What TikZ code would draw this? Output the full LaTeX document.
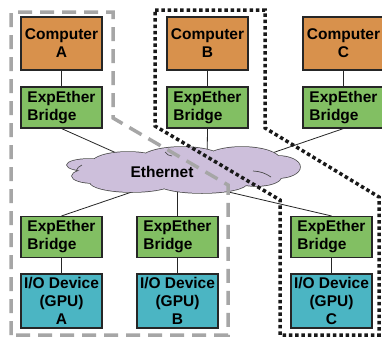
\documentclass[tikz,border=0pt]{standalone}
\usepackage{fontspec}
\setmainfont{Liberation Sans}
\definecolor{comporange}{RGB}{216,145,76}
\definecolor{bridgegreen}{RGB}{130,191,99}
\definecolor{devteal}{RGB}{75,181,195}
\definecolor{cloudlav}{RGB}{205,191,219}
\definecolor{grpgray}{RGB}{166,166,166}
\begin{document}
\begin{tikzpicture}[x=1pt,y=-1pt,
  box/.style={draw=black!85,line width=1.1pt,minimum width=81pt,inner sep=0pt,
    font=\fontsize{15.5}{18}\selectfont\bfseries,align=center},
  compbox/.style={box,fill=comporange,minimum height=53pt},
  bridgebox/.style={box,fill=bridgegreen,minimum height=41pt,align=left},
  devbox/.style={box,fill=devteal,minimum height=54pt},
  link/.style={draw=black!85,line width=0.8pt},
  grpdash/.style={draw=grpgray,line width=3.5pt,dash pattern=on 14pt off 8pt},
  grpdot/.style={draw=black!90,line width=3.5pt,dash pattern=on 3.5pt off 2.8pt},
  puffs/.pic={
    \path[pic actions] (185,170) ellipse [x radius=95, y radius=18]
          (128,163) ellipse [x radius=36, y radius=11]
          (182,160) ellipse [x radius=42, y radius=13]
          (242,160) ellipse [x radius=38, y radius=13]
          (278,167) ellipse [x radius=22, y radius=11]
          (89,165) ellipse [x radius=22, y radius=6]
          (93,176) ellipse [x radius=21, y radius=7]
          (132,182) ellipse [x radius=42, y radius=10]
          (202,183) ellipse [x radius=45, y radius=10]
          (256,177) ellipse [x radius=25, y radius=9];
  }]
\clip (0,0) rectangle (382,343);
\fill[white] (0,0) rectangle (382,343);
% computers
\node[compbox] (cA) at (61.5,43.5) {Computer\\A};
\node[compbox] (cB) at (207.5,43.5) {Computer\\B};
\node[compbox] (cC) at (343.5,43.5) {Computer\\C};
% top bridges
\node[bridgebox] (tA) at (61.5,107.5) {ExpEther\\Bridge};
\node[bridgebox] (tB) at (207.5,107.5) {ExpEther\\Bridge};
\node[bridgebox] (tC) at (343.5,107.5) {ExpEther\\Bridge};
% bottom bridges
\node[bridgebox] (bA) at (61.5,237) {ExpEther\\Bridge};
\node[bridgebox] (bB) at (177.5,237) {ExpEther\\Bridge};
\node[bridgebox] (bC) at (331.5,237) {ExpEther\\Bridge};
% devices
\node[devbox] (dA) at (61.5,301) {I/O Device\\(GPU)\\A};
\node[devbox] (dB) at (177.5,301) {I/O Device\\(GPU)\\B};
\node[devbox] (dC) at (331.5,301) {I/O Device\\(GPU)\\C};
% hidden ends of connectors inside the cloud
\coordinate (eA) at (150,168);
\coordinate (eB) at (207,170);
\coordinate (eC) at (240,164);
\coordinate (fA) at (170,179);
\coordinate (fB) at (177.5,175);
\coordinate (fC) at (190,183);
\draw[link] (tA.south) -- (eA);
\draw[link] (tB.south) -- (eB);
\draw[link] (tC.south) -- (eC);
\draw[link] (bA.north) -- (fA);
\draw[link] (bB.north) -- (fB);
\draw[link] (bC.north) -- (fC);
% cloud
\pic[draw=black!70,line width=1.5pt] {puffs};
\pic[fill=cloudlav] {puffs};
\draw[black!70,line width=0.7pt] (76,171) arc[start angle=200,end angle=250,radius=10];
\draw[black!70,line width=0.7pt] (253,171) to[bend left=15] (271,177);
\draw[black!70,line width=0.7pt] (165,152) to[bend right=25] (172,156);
\node[font=\fontsize{15.5}{18}\selectfont\bfseries] (ethlabel) at (162,172) {Ethernet};
\draw[link] (cA) -- (tA);
\draw[link] (cB) -- (tB);
\draw[link] (cC) -- (tC);
\draw[link] (bA) -- (dA);
\draw[link] (bB) -- (dB);
\draw[link] (bC) -- (dC);
% groups
\draw[grpdash] (11,335) -- (11,12) -- (113,12) -- (113,118) -- (228,185) -- (228,335) -- cycle;
\draw[grpdot] (155,10) -- (265,10) -- (265,128) -- (379,197) -- (379,335) -- (280,335) -- (280,200) -- (155,126) -- cycle;
\end{tikzpicture}
\end{document}
